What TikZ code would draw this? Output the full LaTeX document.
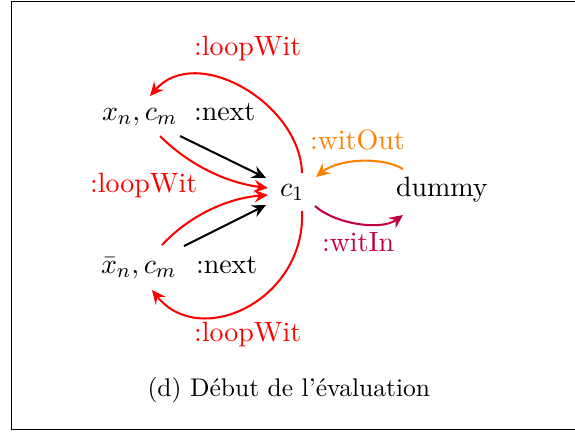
\documentclass[tikz,border=0pt]{standalone}
\usetikzlibrary{arrows.meta}
\begin{document}
\begin{tikzpicture}[x=0.3918pt,y=-0.3918pt,
  lbl/.style={inner sep=0pt,outer sep=0pt,anchor=base west,font=\fontsize{10.95}{13}\selectfont},
  arr/.style={line width=0.8pt,-{Stealth[length=5.4pt,width=5pt,inset=1.9pt]}},
  redarr/.style={arr,red},
  blackarr/.style={arr,black},
  orangearr/.style={arr,orange},
  purplearr/.style={arr,purple}]
\useasboundingbox (0,0) rectangle (575,432);
\draw[line width=0.45pt] (11.5,1.5) rectangle (590,429.5);
% nodes
\node[lbl] (xn) at (102,120) {$x_n, c_m$};
\node[lbl] (nexta) at (194,120) {:next};
\node[lbl] (xb) at (101,273) {$\bar{x}_n, c_m$};
\node[lbl] (nextb) at (196,273) {:next};
\node[lbl] (c1) at (280,196) {$c_1$};
\node[lbl] (dummy) at (396,196) {dummy};
\node[lbl,text=red] (lwtop) at (194,55) {:loopWit};
\node[lbl,text=red] (lwleft) at (90,192) {:loopWit};
\node[lbl,text=red] (lwbot) at (194,341) {:loopWit};
\node[lbl,text=orange] (wout) at (310,149) {:witOut};
\node[lbl,text=purple] (win) at (322,251) {:witIn};
\node[inner sep=0pt,anchor=base west] (cap) at (147,396) {(d) D\'ebut de l'\'evaluation};
% connectors
\draw[redarr] ([shift={(22,-23)}]c1.base west) .. controls +(-2,-70) and +(46,-53) .. ([shift={(48,-24)}]xn.base west);
\draw[redarr] ([shift={(22,15)}]c1.base west) .. controls +(4,89) and +(48,60) .. ([shift={(51,17)}]xb.base west);
\draw[redarr] ([shift={(58,16)}]xn.base west) .. controls +(30,30) and +(-40,-5) .. ([shift={(-12,-8)}]c1.base west);
\draw[redarr] ([shift={(61,-28)}]xb.base west) .. controls +(28,-30) and +(-40,3) .. ([shift={(-12,-1)}]c1.base west);
\draw[blackarr] ([shift={(78,16)}]xn.base west) -- ([shift={(-14,-18)}]c1.base west);
\draw[blackarr] ([shift={(83,-27)}]xb.base west) -- ([shift={(-14,9)}]c1.base west);
\draw[orangearr] ([shift={(7,-27)}]dummy.base west) .. controls +(-22,-13) and +(22,-18) .. ([shift={(36,-19)}]c1.base west);
\draw[purplearr] ([shift={(35,10)}]c1.base west) .. controls +(20,18) and +(-22,16) .. ([shift={(7,19)}]dummy.base west);
\end{tikzpicture}
\end{document}
